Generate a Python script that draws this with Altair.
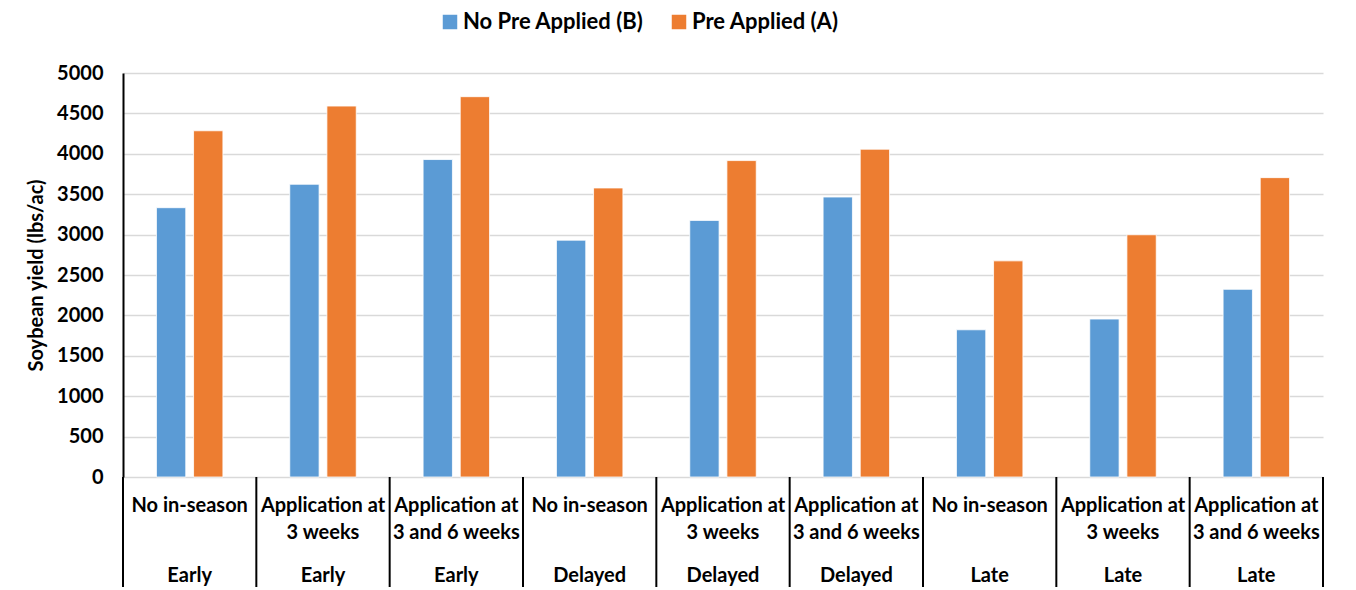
import altair as alt
import pandas as pd

# ---- data ----
treatments = ["No in-season", "Application at\n3 weeks", "Application at\n3 and 6 weeks",
              "No in-season", "Application at\n3 weeks", "Application at\n3 and 6 weeks",
              "No in-season", "Application at\n3 weeks", "Application at\n3 and 6 weeks"]
timings = ["Early", "Early", "Early", "Delayed", "Delayed", "Delayed", "Late", "Late", "Late"]
no_pre_applied = [3333, 3623, 3929, 2931, 3176, 3465, 1822, 1955, 2323]
pre_applied = [4285, 4591, 4707, 3577, 3916, 4057, 2675, 2998, 3705]
series_names = ["No Pre Applied (B)", "Pre Applied (A)"]
series_colors = ["#5B9BD5", "#ED7D31"]
y_ticks = list(range(0, 5001, 500))

keys = [f"{i}|{tm}|{tr}" for i, (tm, tr) in enumerate(zip(timings, treatments))]

rows = []
for k, b, a in zip(keys, no_pre_applied, pre_applied):
    rows.append({"key": k, "series": series_names[0], "value": b})
    rows.append({"key": k, "series": series_names[1], "value": a})
bars_df = pd.DataFrame(rows)
cats_df = pd.DataFrame({"key": keys, "treatment": treatments, "timing": timings})
last_df = cats_df.iloc[[-1]]

FONT = "Lato"
xscale = alt.Scale(paddingInner=0, paddingOuter=0)

bars = alt.Chart(bars_df).mark_bar(stroke="white", strokeWidth=0.8).encode(
    x=alt.X("key:N", sort=keys, scale=xscale,
            axis=alt.Axis(labels=False, ticks=False, title=None, grid=False,
                          domainColor="black", domainWidth=2)),
    xOffset=alt.XOffset("series:N", sort=series_names,
                        scale=alt.Scale(paddingInner=0.21, paddingOuter=0.9)),
    y=alt.Y("value:Q", scale=alt.Scale(domain=[0, 5000], nice=False),
            axis=alt.Axis(values=y_ticks, format="d", title="Soybean yield (lbs/ac)",
                          titleFont=FONT, titleFontSize=20, titleFontWeight="bold",
                          titleColor="black", titlePadding=10,
                          labelFont=FONT, labelFontSize=20, labelFontWeight="bold",
                          labelColor="black", labelPadding=20, ticks=False,
                          domainColor="black", domainWidth=2,
                          grid=True, gridColor="#D9D9D9", gridWidth=1.5)),
    color=alt.Color("series:N", sort=series_names,
                    scale=alt.Scale(domain=series_names, range=series_colors),
                    legend=alt.Legend(title=None, orient="none", legendX=316, legendY=-62,
                                      direction="horizontal", symbolType="square",
                                      symbolSize=210, symbolStrokeWidth=0,
                                      labelFont=FONT, labelFontSize=22, labelLimit=0,
                                      labelFontWeight="bold", labelColor="black",
                                      columnPadding=24, labelOffset=2)),
)

sep_rules = alt.Chart(cats_df).mark_rule(color="black", strokeWidth=2).encode(
    x=alt.X("key:N", sort=keys, scale=xscale, bandPosition=0, axis=None),
    y=alt.value(404), y2=alt.value(525),
)
end_rule = alt.Chart(last_df).mark_rule(color="black", strokeWidth=2).encode(
    x=alt.X("key:N", sort=keys, scale=xscale, bandPosition=1, axis=None),
    y=alt.value(404), y2=alt.value(525),
)

row1 = alt.Chart(cats_df).mark_text(
    font=FONT, fontSize=20, fontWeight="bold", color="black",
    baseline="top", align="center", lineBreak="\n", lineHeight=27,
).encode(
    x=alt.X("key:N", sort=keys, scale=xscale, axis=None),
    y=alt.value(423),
    text="treatment:N",
)
row2 = alt.Chart(cats_df).mark_text(
    font=FONT, fontSize=20, fontWeight="bold", color="black",
    baseline="middle", align="center",
).encode(
    x=alt.X("key:N", sort=keys, scale=xscale, axis=None),
    y=alt.value(503),
    text="timing:N",
)

chart = alt.layer(bars, sep_rules, end_rule, row1, row2).properties(
    width=1200, height=404,
    autosize="none",
    padding={"left": 115, "top": 65, "right": 25, "bottom": 110},
).configure_view(strokeWidth=0)

chart.save("out.html", embed_options={"renderer": "svg", "actions": False})
